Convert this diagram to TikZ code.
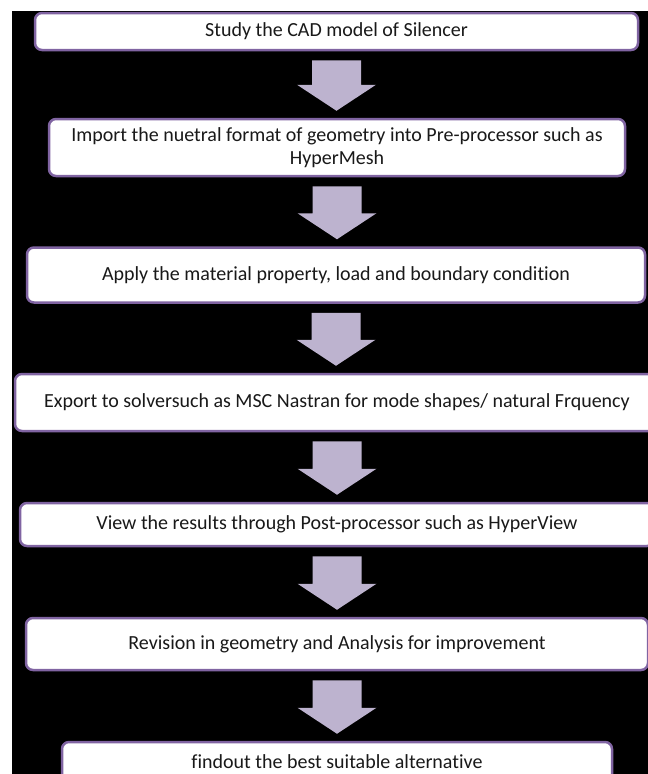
\documentclass[tikz,border=0pt]{standalone}
\usepackage{fontspec}
\setmainfont{Carlito}[Ligatures=NoCommon]
\usetikzlibrary{calc}
\definecolor{boxline}{RGB}{128,100,162}
\definecolor{arrowfill}{RGB}{189,179,207}

% block arrow from the bottom of one step to the top of the next
\newcommand{\flowarrow}[2]{%
  \fill[arrowfill] let \p1=(#1.south), \p2=(#2.north) in
    (\x1-24.5pt,\y1-9pt) -- (\x1+24.5pt,\y1-9pt) -- (\x1+24.5pt,\y2+33pt)
    -- (\x1+39.5pt,\y2+33pt) -- (\x1,\y2+7pt) -- (\x1-39.5pt,\y2+33pt)
    -- (\x1-24.5pt,\y2+33pt) -- cycle;}

\begin{document}
\begin{tikzpicture}[x=1pt,y=1pt,
  stepbox/.style={draw=boxline,line width=2.5pt,rounded corners=7pt,fill=white,inner sep=2pt,align=center,text=black!90,font=\fontsize{20}{23}\selectfont}]
\useasboundingbox (0,0) rectangle (648,-774);
\clip (0,0) rectangle (648,-774);
\fill[black] (12,-11) rectangle (648,-774);

% steps of the procedure
\node[stepbox,minimum width=603pt,minimum height=37pt] (cad) at (336.5,-31.5) {Study the CAD model of Silencer};
\node[stepbox,minimum width=576pt,minimum height=57pt] (imp) at (337,-147.5) {Import the nuetral format of geometry into Pre-processor such as\\HyperMesh};
\node[stepbox,minimum width=618pt,minimum height=55pt] (mat) at (336,-275) {Apply the material property, load and boundary condition};
\node[stepbox,minimum width=644pt,minimum height=57pt] (sol) at (337,-402.5) {Export to solversuch as MSC Nastran for mode shapes/ natural Frquency};
\node[stepbox,minimum width=634pt,minimum height=43pt] (res) at (337,-524.5) {View the results through Post-processor such as HyperView};
\node[stepbox,minimum width=622pt,minimum height=52pt] (rev) at (337,-644) {Revision in geometry and Analysis for improvement};
\node[stepbox,minimum width=550pt,minimum height=40pt] (alt) at (337,-762) {findout the best suitable alternative};

% block arrows
\flowarrow{cad}{imp}
\flowarrow{imp}{mat}
\flowarrow{mat}{sol}
\flowarrow{sol}{res}
\flowarrow{res}{rev}
\flowarrow{rev}{alt}
\end{tikzpicture}
\end{document}
